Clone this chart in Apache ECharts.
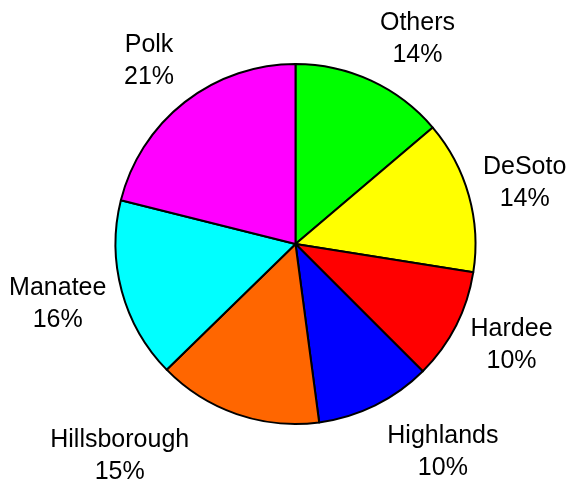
<!DOCTYPE html>
<html>
<head>
<meta charset="utf-8">
<script src="https://cdn.jsdelivr.net/npm/echarts@6/dist/echarts.min.js"></script>
<style>
    html, body { margin: 0; padding: 0; background: #fff; }
    #pie { width: 568px; height: 485px; }
</style>
</head>
<body>
<div id="pie"></div>
<script>
// 各个县的占比（顺时针，从12点方向开始）
var counties = ['Others', 'DeSoto', 'Hardee', 'Highlands', 'Hillsborough', 'Manatee', 'Polk'];
var shares = [13.8, 13.7, 10.0, 10.4, 14.8, 16.2, 21.1];
var sliceColors = ['#00ff00', '#ffff00', '#ff0000', '#0000ff', '#ff6600', '#00ffff', '#ff00ff'];
// 标签微调（靠近上下方的标签往外挪一点）
var labelShift = [[22, 11], [0, 3], [4, -7], [42, -5], [-98, -13], [-8, -2], [0, 5]];

var myChart = echarts.init(document.getElementById('pie'));

var pieData = counties.map(function (name, i) {
    return { name: name, value: shares[i], itemStyle: { color: sliceColors[i] } };
});

var option = {
    animation: false,
    series: [
        {
            // 只用来放标签的隐形饼图
            type: 'pie',
            silent: true,
            center: [295.5, 244],
            radius: [0, 470],
            startAngle: 90,
            clockwise: true,
            itemStyle: { color: 'transparent', borderWidth: 0 },
            emphasis: { disabled: true },
            label: {
                show: true,
                position: 'inside',
                color: '#000',
                fontFamily: 'Liberation Sans, Arial, sans-serif',
                fontSize: 25,
                lineHeight: 32,
                formatter: function (p) {
                    return p.name + '\n' + Math.round(p.percent) + '%';
                }
            },
            labelLayout: function (params) {
                var s = labelShift[params.dataIndex];
                return { dx: s[0], dy: s[1] };
            },
            data: counties.map(function (name, i) {
                return { name: name, value: shares[i] };
            })
        },
        {
            type: 'pie',
            center: [295.5, 244],
            radius: 180,
            startAngle: 90,
            clockwise: true,
            itemStyle: {
                borderColor: '#000',
                borderWidth: 2
            },
            emphasis: { disabled: true },
            label: { show: false },
            labelLine: { show: false },
            data: pieData
        }
    ]
};
myChart.setOption(option);
</script>
</body>
</html>
